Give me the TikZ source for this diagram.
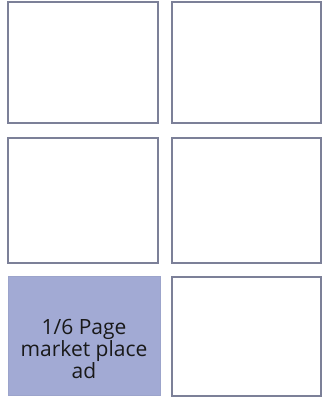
\documentclass[tikz,border=0pt]{standalone}
\usepackage{fontspec}
\setmainfont{Open Sans}
\definecolor{edge}{HTML}{7C8098}
\definecolor{adfill}{HTML}{A2AAD4}
\begin{document}
\begin{tikzpicture}[x=1pt,y=-1pt,
  slot/.style={draw=edge,line width=1.1pt,fill=white},
  adslot/.style={fill=adfill,draw=adfill!85!edge,line width=0.6pt}]
\useasboundingbox (0,0) rectangle (323,403);
\fill[white] (0,0) rectangle (323,403);
\draw[slot] (8,2) rectangle (158,123);
\draw[slot] (172,2) rectangle (321,123);
\draw[slot] (8,138) rectangle (158,263);
\draw[slot] (172,138) rectangle (321,263);
\draw[adslot] (8,276) rectangle (160,395);
\draw[slot] (172,277) rectangle (321,396);
\node[align=center,inner sep=0pt,font=\fontsize{21}{17.5}\selectfont,text=black!90] (ad) at (84,349) {1/6 Page\\market place\\ad};
\end{tikzpicture}
\end{document}
